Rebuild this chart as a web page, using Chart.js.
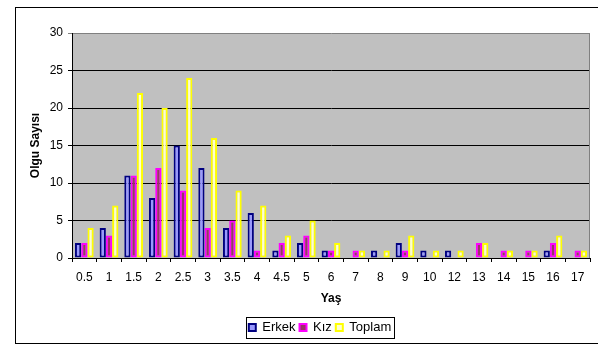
<!DOCTYPE html>
<html>
<head>
<meta charset="utf-8">
<script src="https://cdn.jsdelivr.net/npm/chart.js@4/dist/chart.umd.min.js"></script>
<style>
    body { margin: 0; background: #fff; }
    #chart { display: block; }
</style>
</head>
<body>
<canvas id="chart" width="598" height="345"></canvas>
<script>
const ages = ['0.5', '1', '1.5', '2', '2.5', '3', '3.5', '4', '4.5', '5', '6', '7', '8', '9', '10', '12', '13', '14', '15', '16', '17'];
const erkek = [2, 4, 11, 8, 15, 12, 4, 6, 1, 2, 1, 0, 1, 2, 1, 1, 0, 0, 0, 1, 0];
const kiz = [2, 3, 11, 12, 9, 4, 5, 1, 2, 3, 1, 1, 0, 1, 0, 0, 2, 1, 1, 2, 1];
const toplam = [4, 7, 22, 20, 24, 16, 9, 7, 3, 5, 2, 1, 1, 3, 1, 1, 2, 1, 1, 3, 1];

const FONT = "'Liberation Sans', Arial, sans-serif";

// grey plot area, grey right edge, outer frame and the box round the legend
const frame = {
    id: 'frame',
    afterLayout(chart) {
        // legend sits a bit right of the canvas centre in the original
        chart.legend.left += 25;
        chart.legend.right += 25;
    },
    beforeDraw(chart) {
        const { ctx, chartArea: a } = chart;
        ctx.save();
        ctx.fillStyle = '#c0c0c0';
        ctx.fillRect(a.left, a.top, a.right - a.left, a.bottom - a.top);
        ctx.restore();
    },
    beforeDatasetsDraw(chart) {
        const { ctx, chartArea: a } = chart;
        ctx.save();
        ctx.strokeStyle = '#808080';
        ctx.lineWidth = 1;
        ctx.beginPath();
        ctx.moveTo(Math.round(a.right) - 0.5, a.top);
        ctx.lineTo(Math.round(a.right) - 0.5, a.bottom);
        ctx.stroke();
        ctx.restore();
    },
    afterDraw(chart) {
        const { ctx } = chart;
        ctx.save();
        ctx.strokeStyle = '#000';
        ctx.lineWidth = 1;
        ctx.strokeRect(15.5, 7.5, 600, 336);
        const boxes = chart.legend.legendHitBoxes;
        if (boxes.length) {
            const l = Math.min(...boxes.map(b => b.left)) - 3;
            const r = Math.max(...boxes.map(b => b.left + b.width)) + 3;
            const t = Math.min(...boxes.map(b => b.top)) - 4;
            const btm = Math.max(...boxes.map(b => b.top + b.height)) + 4;
            ctx.strokeRect(Math.round(l) + 0.5, Math.round(t) + 0.5, Math.round(r - l), Math.round(btm - t));
        }
        ctx.restore();
    }
};

const bar = (label, data, fill, border) => ({
    label, data,
    backgroundColor: fill,
    borderColor: border,
    borderWidth: 2,
    borderSkipped: false,
    categoryPercentage: 0.76,
    barPercentage: 1
});

new Chart(document.getElementById('chart'), {
    type: 'bar',
    data: {
        labels: ages,
        datasets: [
            bar('Erkek', erkek, '#9999ff', '#000080'),
            bar('Kız', kiz, '#993366', '#ff00ff'),
            bar('Toplam', toplam, '#ffffcc', '#ffff00')
        ]
    },
    options: {
        responsive: false,
        animation: false,
        layout: { padding: { top: 33, right: 8, bottom: 1, left: 0 } },
        plugins: {
            tooltip: { enabled: false },
            legend: {
                position: 'bottom',
                labels: {
                    color: '#000',
                    font: { family: FONT, size: 13 },
                    boxWidth: 7,
                    boxHeight: 7,
                    padding: 4,
                    useBorderRadius: false
                }
            }
        },
        scales: {
            x: {
                afterFit: scale => { scale.height = 59; },
                grid: { drawOnChartArea: false, drawTicks: true, tickLength: 4, color: '#000' },
                border: { color: '#000', width: 1 },
                ticks: { color: '#000', font: { family: FONT, size: 12 }, padding: 8, maxRotation: 0, autoSkip: false },
                title: { display: true, text: 'Yaş', color: '#000', font: { family: FONT, size: 12, weight: 'bold' }, padding: { top: 0, bottom: 11 } }
            },
            y: {
                min: 0,
                max: 30,
                afterFit: scale => { scale.width = 72; },
                grid: {
                    color: c => (c.tick && c.tick.value === 30 ? '#808080' : '#000'),
                    drawTicks: true,
                    tickLength: 4
                },
                border: { color: '#000', width: 1 },
                ticks: { stepSize: 5, color: '#000', font: { family: FONT, size: 12 }, padding: 5 },
                title: { display: true, text: 'Olgu Sayısı', color: '#000', font: { family: FONT, size: 12, weight: 'bold' }, padding: { top: 28, bottom: 0 } }
            }
        }
    },
    plugins: [frame]
});
</script>
</body>
</html>
